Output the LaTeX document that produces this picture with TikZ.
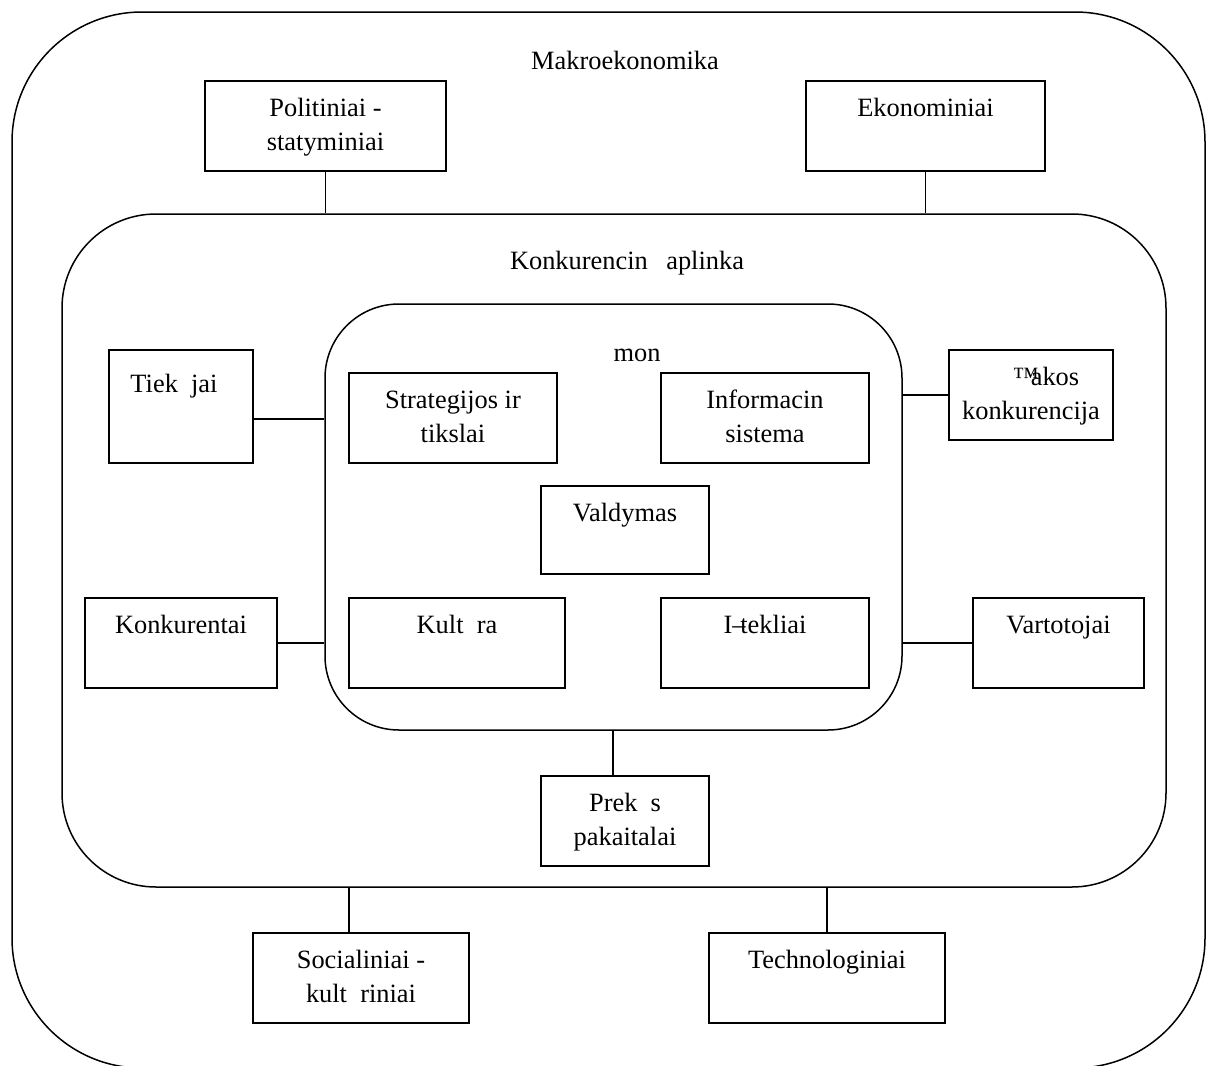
\documentclass[tikz,border=0pt]{standalone}
\usepackage{fontspec}
\setmainfont{Liberation Serif}
\usetikzlibrary{positioning}

\begin{document}
\begin{tikzpicture}[
    x=0.5pt, y=-0.5pt,
    every node/.style={font=\fontsize{13.2}{17}\selectfont},
    zone/.style={draw, line width=0.75pt, inner sep=0pt},
    box/.style={draw, line width=0.75pt, anchor=north, align=center, minimum width=#1,
      inner xsep=2pt, inner ysep=0pt, text height=18pt, text depth=27pt},
    twoline/.style={text height=35pt, text depth=10pt},
    link/.style={line width=0.75pt}
  ]
    \useasboundingbox (0,0) rectangle (1216,1066);
    \clip (0,0) rectangle (1216,1066);

    % three nested environments
    \node[zone, rounded corners=65pt, minimum width=596.5pt, minimum height=528pt] (makro) at (608.5,540) {};
    \node[zone, rounded corners=47pt, minimum width=552pt, minimum height=336.5pt] (aplinka) at (614,550.5) {};
    \node[zone, rounded corners=37pt, minimum width=288.5pt, minimum height=213pt] (imone) at (613.5,517) {};

    \node (makrotitle) at (625,60) {Makroekonomika};
    \node (aplinkatitle) at (627,263) {Konkurencin\hspace{0.7em}aplinka};
    \node (imonetitle) at (637,355) {mon};

    % macro factors
    \node[box=120.5pt, twoline] (pol) at (325.5,80) {Politiniai -\\statyminiai};
    \node[box=119.5pt] (eko) at (925.5,80) {Ekonominiai};
    \node[box=108pt, twoline] (soc) at (361,932) {Socialiniai -\\kult\hspace{0.5em}riniai};
    \node[box=118pt] (tech) at (827,932) {Technologiniai};

    % competitive environment
    \node[box=72pt, text height=21.5pt, text depth=35pt] (tiek) at (181,349) {Tiek\hspace{0.5em}jai\hspace*{7pt}};
    \node[box=96pt] (konk) at (181,597) {Konkurentai};
    \node[box=82pt, twoline] (sakos) at (1031,349) {\hspace*{15pt}™\kern-0.3em akos\\konkurencija};
    \node[box=85.5pt] (vart) at (1058.5,597) {Vartotojai};
    \node[box=84pt, twoline] (prek) at (625,775) {Prek\hspace{0.5em}s\\pakaitalai};

    % company
    \node[box=104pt, twoline] (strat) at (453,372) {Strategijos ir\\tikslai};
    \node[box=104pt, twoline] (info) at (765,372) {Informacin\\sistema};
    \node[box=84pt, text depth=26pt] (vald) at (625,485) {Valdymas};
    \node[box=108pt] (kult) at (457,597) {Kult\hspace{0.5em}ra};
    \node[box=104pt] (istek) at (765,597) {I–\kern-0.2em tekliai};

    \draw[link] (pol.south) -- (pol.south |- aplinka.north);
    \draw[link] (eko.south) -- (eko.south |- aplinka.north);
    \draw[link] ([xshift=-6pt]soc.north) -- ([xshift=-6pt]soc.north |- aplinka.south);
    \draw[link] (tech.north) -- (tech.north |- aplinka.south);

    \draw[link] ([yshift=-6.25pt]tiek.east) -- ([yshift=-6.25pt]tiek.east -| imone.west);
    \draw[link] (konk.east) -- (konk.east -| imone.west);
    \draw[link] (sakos.west) -- (sakos.west -| imone.east);
    \draw[link] (vart.west) -- (vart.west -| imone.east);
    \draw[link] ([xshift=-6pt]prek.north) -- ([xshift=-6pt]prek.north |- imone.south);
\end{tikzpicture}
\end{document}
